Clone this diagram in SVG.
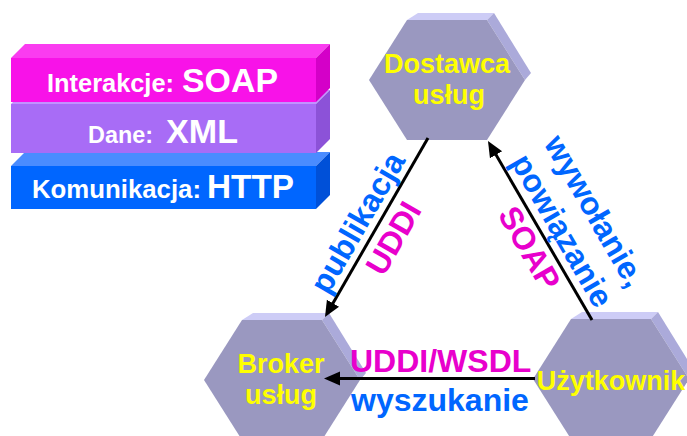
<svg xmlns="http://www.w3.org/2000/svg" xmlns:xlink="http://www.w3.org/1999/xlink" width="687" height="436" viewBox="0 0 687 436">
<style>
text{font-family:"Liberation Sans",Arial,sans-serif;font-weight:bold}
.w{fill:#FFFFFF}
.y{fill:#FFFF00;font-size:27px}
.b{fill:#0066FF;font-size:32px}
.m{fill:#E800CC;font-size:32px}
.conn{stroke:#000;stroke-width:3;fill:none;marker-end:url(#ah)}
.hf{fill:#9A98C0}
.ht{fill:#CDCCF6}
.hs{fill:#ABAADA}
</style>
<defs>
<marker id="ah" markerUnits="userSpaceOnUse" markerWidth="18" markerHeight="16" refX="11" refY="7" orient="auto">
<path d="M0,0 L16,7 L0,14 z" fill="#000"/>
</marker>
<g id="hex">
<polygon class="ht" points="-40,-60 40,-60 47,-67 -29,-67"/>
<polygon class="hs" points="40,-60 47,-67 84,-7 78,0"/>
<polygon class="hf" points="-78,0 -40,-60 40,-60 78,0 40,60 -40,60"/>
</g>
</defs>
<rect width="687" height="436" fill="#FFFFFF"/>
<g id="layers">
<g id="layer-http">
<polygon fill="#4A8CFF" points="11,166 316,166 330,152 25,152"/>
<polygon fill="#0050D8" points="316,166 330,152 330,195 316,209"/>
<rect x="11" y="166" width="305" height="43" fill="#0066FF"/>
<text class="w" x="32" y="198" font-size="25" textLength="169" lengthAdjust="spacingAndGlyphs">Komunikacja:</text>
<text class="w" x="207" y="198" font-size="33" textLength="87" lengthAdjust="spacingAndGlyphs">HTTP</text>
</g>
<g id="layer-xml">
<polygon fill="#C292FF" points="11,104 316,104 330,90 25,90"/>
<polygon fill="#8C52D8" points="316,104 330,90 330,139 316,153"/>
<rect x="11" y="104" width="305" height="49" fill="#A86CF6"/>
<text class="w" x="88" y="143" font-size="24" textLength="65" lengthAdjust="spacingAndGlyphs">Dane:</text>
<text class="w" x="166" y="143" font-size="33" textLength="72" lengthAdjust="spacingAndGlyphs">XML</text>
</g>
<g id="layer-soap">
<polygon fill="#FA3CF0" points="11,58 316,58 330,44 25,44"/>
<polygon fill="#D400C8" points="316,58 330,44 330,88 316,102"/>
<rect x="11" y="58" width="305" height="44" fill="#F812E8"/>
<text class="w" x="47" y="92" font-size="26" textLength="127" lengthAdjust="spacingAndGlyphs">Interakcje:</text>
<text class="w" x="182" y="92" font-size="33" textLength="96" lengthAdjust="spacingAndGlyphs">SOAP</text>
</g>
</g>
<g id="node-dostawca">
<use xlink:href="#hex" transform="translate(447,80)"/>
<text class="y" text-anchor="middle" x="447" y="73">Dostawca</text>
<text class="y" text-anchor="middle" x="449" y="104">usług</text>
</g>
<g id="node-broker">
<use xlink:href="#hex" transform="translate(282,380)"/>
<text class="y" text-anchor="middle" x="281" y="373">Broker</text>
<text class="y" text-anchor="middle" x="281" y="404">usług</text>
</g>
<g id="node-uzytkownik">
<use xlink:href="#hex" transform="translate(611,379)"/>
</g>
<g id="connectors">
<line class="conn" x1="428" y1="138" x2="327.5" y2="312.7"/>
<line class="conn" x1="592" y1="320" x2="490.5" y2="145.3"/>
<line class="conn" x1="535" y1="378.5" x2="329" y2="378.5"/>
<text class="b" text-anchor="middle" transform="translate(367,228) rotate(-60)">publikacja</text>
<text class="m" text-anchor="middle" transform="translate(403,243.7) rotate(-60)">UDDI</text>
<text class="b" text-anchor="middle" transform="translate(585.6,216.5) rotate(60)">wywołanie,</text>
<text class="b" text-anchor="middle" transform="translate(552.6,236) rotate(60)">powiązanie</text>
<text class="m" text-anchor="middle" transform="translate(520,253.8) rotate(60)">SOAP</text>
<text class="m" x="350" y="371.5">UDDI/WSDL</text>
<text class="b" x="351" y="411">wyszukanie</text>
</g>
<g id="node-uzytkownik-label">
<text class="y" text-anchor="middle" x="611" y="390">Użytkownik</text>
</g>
</svg>
